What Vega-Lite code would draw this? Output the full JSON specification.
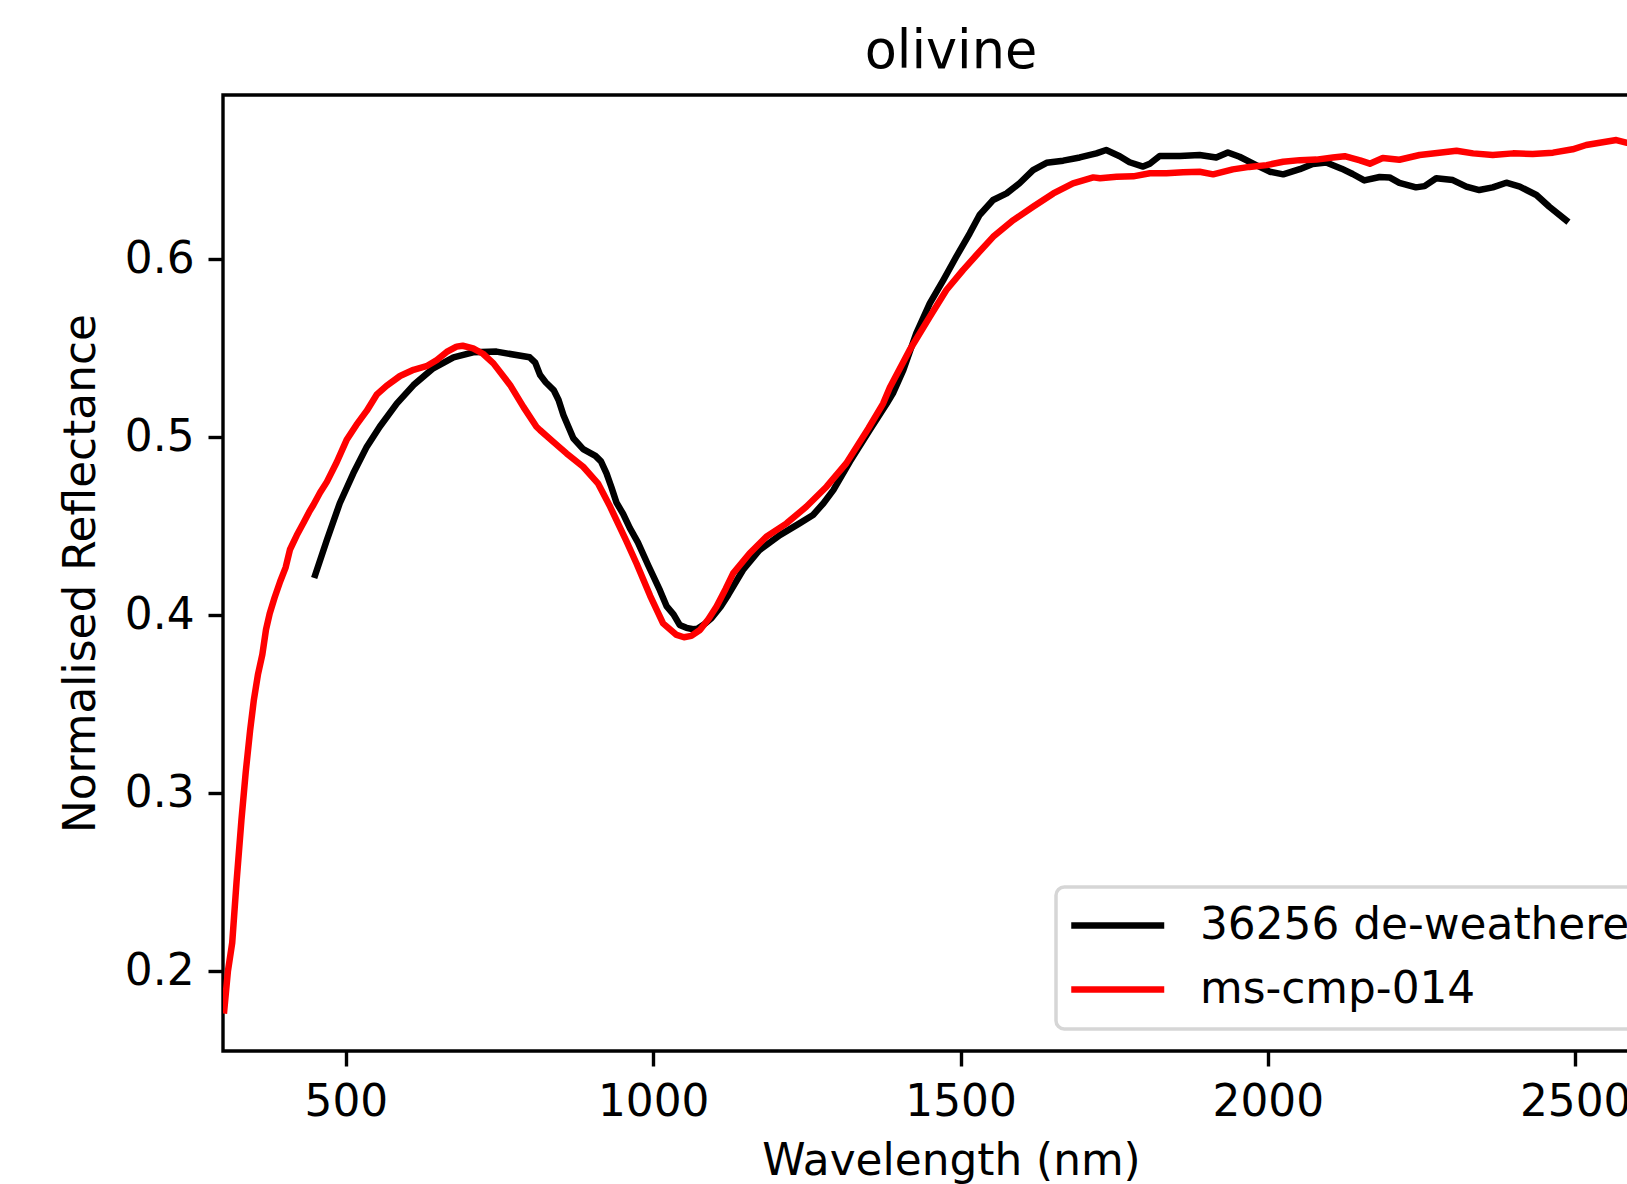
{
  "$schema": "https://vega.github.io/schema/vega-lite/v6.json",
  "width": 1456,
  "height": 956,
  "autosize": {"type": "none"},
  "padding": {"left": 223, "top": 95, "right": 0, "bottom": 133},
  "background": "white",
  "title": {"text": "olivine", "font": "DejaVu Sans", "fontSize": 52.5, "fontWeight": "normal", "color": "black", "baseline": "bottom", "offset": 13.5, "dy": 50, "anchor": "middle"},
  "config": {
    "view": {"stroke": "black", "strokeWidth": 3.4},
    "axis": {"domain": false, "grid": false, "labelFont": "DejaVu Sans", "labelFontSize": 43.8, "labelColor": "black", "tickColor": "black", "tickWidth": 3.4, "tickSize": 15, "labelPadding": 14, "titleFont": "DejaVu Sans", "titleFontSize": 43.8, "titleFontWeight": "normal", "titleColor": "black", "labelFlush": false},
    "legend": {"strokeColor": "#d6d6d6", "strokeWidth": 3.5, "fillColor": "rgba(255,255,255,0.8)", "cornerRadius": 8.3, "padding": 16.7}
  },
  "data": {"values": [
    {"sample": "36256 de-weathered", "wavelength": 450, "reflectance": 0.4227},
    {"sample": "36256 de-weathered", "wavelength": 469, "reflectance": 0.4423},
    {"sample": "36256 de-weathered", "wavelength": 490, "reflectance": 0.463},
    {"sample": "36256 de-weathered", "wavelength": 512, "reflectance": 0.4798},
    {"sample": "36256 de-weathered", "wavelength": 534, "reflectance": 0.4948},
    {"sample": "36256 de-weathered", "wavelength": 555, "reflectance": 0.506},
    {"sample": "36256 de-weathered", "wavelength": 583, "reflectance": 0.5191},
    {"sample": "36256 de-weathered", "wavelength": 610, "reflectance": 0.5294},
    {"sample": "36256 de-weathered", "wavelength": 642, "reflectance": 0.5388},
    {"sample": "36256 de-weathered", "wavelength": 675, "reflectance": 0.545},
    {"sample": "36256 de-weathered", "wavelength": 707, "reflectance": 0.5478},
    {"sample": "36256 de-weathered", "wavelength": 745, "reflectance": 0.5482},
    {"sample": "36256 de-weathered", "wavelength": 799, "reflectance": 0.545},
    {"sample": "36256 de-weathered", "wavelength": 808, "reflectance": 0.542},
    {"sample": "36256 de-weathered", "wavelength": 816, "reflectance": 0.535},
    {"sample": "36256 de-weathered", "wavelength": 825, "reflectance": 0.531},
    {"sample": "36256 de-weathered", "wavelength": 838, "reflectance": 0.5266},
    {"sample": "36256 de-weathered", "wavelength": 846, "reflectance": 0.521},
    {"sample": "36256 de-weathered", "wavelength": 854, "reflectance": 0.5125},
    {"sample": "36256 de-weathered", "wavelength": 862, "reflectance": 0.506},
    {"sample": "36256 de-weathered", "wavelength": 870, "reflectance": 0.4995},
    {"sample": "36256 de-weathered", "wavelength": 886, "reflectance": 0.4934},
    {"sample": "36256 de-weathered", "wavelength": 906, "reflectance": 0.4896},
    {"sample": "36256 de-weathered", "wavelength": 915, "reflectance": 0.4865},
    {"sample": "36256 de-weathered", "wavelength": 924, "reflectance": 0.4798},
    {"sample": "36256 de-weathered", "wavelength": 932, "reflectance": 0.472},
    {"sample": "36256 de-weathered", "wavelength": 940, "reflectance": 0.4635},
    {"sample": "36256 de-weathered", "wavelength": 951, "reflectance": 0.457},
    {"sample": "36256 de-weathered", "wavelength": 962, "reflectance": 0.449},
    {"sample": "36256 de-weathered", "wavelength": 975, "reflectance": 0.441},
    {"sample": "36256 de-weathered", "wavelength": 992, "reflectance": 0.428},
    {"sample": "36256 de-weathered", "wavelength": 1011, "reflectance": 0.414},
    {"sample": "36256 de-weathered", "wavelength": 1022, "reflectance": 0.405},
    {"sample": "36256 de-weathered", "wavelength": 1033, "reflectance": 0.4005},
    {"sample": "36256 de-weathered", "wavelength": 1043, "reflectance": 0.3946},
    {"sample": "36256 de-weathered", "wavelength": 1054, "reflectance": 0.393},
    {"sample": "36256 de-weathered", "wavelength": 1065, "reflectance": 0.3922},
    {"sample": "36256 de-weathered", "wavelength": 1072, "reflectance": 0.3925},
    {"sample": "36256 de-weathered", "wavelength": 1085, "reflectance": 0.3955},
    {"sample": "36256 de-weathered", "wavelength": 1095, "reflectance": 0.3985},
    {"sample": "36256 de-weathered", "wavelength": 1110, "reflectance": 0.405},
    {"sample": "36256 de-weathered", "wavelength": 1122, "reflectance": 0.4115},
    {"sample": "36256 de-weathered", "wavelength": 1146, "reflectance": 0.4255},
    {"sample": "36256 de-weathered", "wavelength": 1173, "reflectance": 0.4367},
    {"sample": "36256 de-weathered", "wavelength": 1206, "reflectance": 0.4451},
    {"sample": "36256 de-weathered", "wavelength": 1238, "reflectance": 0.4517},
    {"sample": "36256 de-weathered", "wavelength": 1260, "reflectance": 0.4564},
    {"sample": "36256 de-weathered", "wavelength": 1277, "reflectance": 0.463},
    {"sample": "36256 de-weathered", "wavelength": 1293, "reflectance": 0.4704},
    {"sample": "36256 de-weathered", "wavelength": 1320, "reflectance": 0.4864},
    {"sample": "36256 de-weathered", "wavelength": 1352, "reflectance": 0.504},
    {"sample": "36256 de-weathered", "wavelength": 1380, "reflectance": 0.519},
    {"sample": "36256 de-weathered", "wavelength": 1390, "reflectance": 0.5247},
    {"sample": "36256 de-weathered", "wavelength": 1407, "reflectance": 0.5379},
    {"sample": "36256 de-weathered", "wavelength": 1428, "reflectance": 0.5585},
    {"sample": "36256 de-weathered", "wavelength": 1450, "reflectance": 0.5753},
    {"sample": "36256 de-weathered", "wavelength": 1472, "reflectance": 0.5884},
    {"sample": "36256 de-weathered", "wavelength": 1493, "reflectance": 0.6015},
    {"sample": "36256 de-weathered", "wavelength": 1515, "reflectance": 0.6147},
    {"sample": "36256 de-weathered", "wavelength": 1531, "reflectance": 0.625},
    {"sample": "36256 de-weathered", "wavelength": 1553, "reflectance": 0.6334},
    {"sample": "36256 de-weathered", "wavelength": 1575, "reflectance": 0.6371},
    {"sample": "36256 de-weathered", "wavelength": 1596, "reflectance": 0.6428},
    {"sample": "36256 de-weathered", "wavelength": 1618, "reflectance": 0.6502},
    {"sample": "36256 de-weathered", "wavelength": 1640, "reflectance": 0.6543},
    {"sample": "36256 de-weathered", "wavelength": 1667, "reflectance": 0.6555},
    {"sample": "36256 de-weathered", "wavelength": 1694, "reflectance": 0.6573},
    {"sample": "36256 de-weathered", "wavelength": 1721, "reflectance": 0.6596},
    {"sample": "36256 de-weathered", "wavelength": 1737, "reflectance": 0.6615},
    {"sample": "36256 de-weathered", "wavelength": 1759, "reflectance": 0.658},
    {"sample": "36256 de-weathered", "wavelength": 1775, "reflectance": 0.6546},
    {"sample": "36256 de-weathered", "wavelength": 1797, "reflectance": 0.6522},
    {"sample": "36256 de-weathered", "wavelength": 1808, "reflectance": 0.6538},
    {"sample": "36256 de-weathered", "wavelength": 1824, "reflectance": 0.6581},
    {"sample": "36256 de-weathered", "wavelength": 1857, "reflectance": 0.6581},
    {"sample": "36256 de-weathered", "wavelength": 1889, "reflectance": 0.6587},
    {"sample": "36256 de-weathered", "wavelength": 1916, "reflectance": 0.6573},
    {"sample": "36256 de-weathered", "wavelength": 1935, "reflectance": 0.6601},
    {"sample": "36256 de-weathered", "wavelength": 1954, "reflectance": 0.6577},
    {"sample": "36256 de-weathered", "wavelength": 1981, "reflectance": 0.653},
    {"sample": "36256 de-weathered", "wavelength": 2003, "reflectance": 0.6493},
    {"sample": "36256 de-weathered", "wavelength": 2025, "reflectance": 0.6478},
    {"sample": "36256 de-weathered", "wavelength": 2052, "reflectance": 0.6507},
    {"sample": "36256 de-weathered", "wavelength": 2073, "reflectance": 0.6536},
    {"sample": "36256 de-weathered", "wavelength": 2095, "reflectance": 0.6545},
    {"sample": "36256 de-weathered", "wavelength": 2120, "reflectance": 0.651},
    {"sample": "36256 de-weathered", "wavelength": 2138, "reflectance": 0.648},
    {"sample": "36256 de-weathered", "wavelength": 2157, "reflectance": 0.6444},
    {"sample": "36256 de-weathered", "wavelength": 2182, "reflectance": 0.6463},
    {"sample": "36256 de-weathered", "wavelength": 2198, "reflectance": 0.6461},
    {"sample": "36256 de-weathered", "wavelength": 2214, "reflectance": 0.643},
    {"sample": "36256 de-weathered", "wavelength": 2241, "reflectance": 0.6405},
    {"sample": "36256 de-weathered", "wavelength": 2255, "reflectance": 0.6412},
    {"sample": "36256 de-weathered", "wavelength": 2274, "reflectance": 0.6456},
    {"sample": "36256 de-weathered", "wavelength": 2301, "reflectance": 0.6446},
    {"sample": "36256 de-weathered", "wavelength": 2323, "reflectance": 0.6409},
    {"sample": "36256 de-weathered", "wavelength": 2344, "reflectance": 0.639},
    {"sample": "36256 de-weathered", "wavelength": 2366, "reflectance": 0.6405},
    {"sample": "36256 de-weathered", "wavelength": 2388, "reflectance": 0.6431},
    {"sample": "36256 de-weathered", "wavelength": 2410, "reflectance": 0.6409},
    {"sample": "36256 de-weathered", "wavelength": 2437, "reflectance": 0.6362},
    {"sample": "36256 de-weathered", "wavelength": 2458, "reflectance": 0.6296},
    {"sample": "36256 de-weathered", "wavelength": 2485, "reflectance": 0.6221},
    {"sample": "ms-cmp-014", "wavelength": 302, "reflectance": 0.178},
    {"sample": "ms-cmp-014", "wavelength": 308, "reflectance": 0.2},
    {"sample": "ms-cmp-014", "wavelength": 315, "reflectance": 0.216},
    {"sample": "ms-cmp-014", "wavelength": 322, "reflectance": 0.25},
    {"sample": "ms-cmp-014", "wavelength": 330, "reflectance": 0.285},
    {"sample": "ms-cmp-014", "wavelength": 337, "reflectance": 0.312},
    {"sample": "ms-cmp-014", "wavelength": 344, "reflectance": 0.335},
    {"sample": "ms-cmp-014", "wavelength": 350, "reflectance": 0.352},
    {"sample": "ms-cmp-014", "wavelength": 357, "reflectance": 0.367},
    {"sample": "ms-cmp-014", "wavelength": 364, "reflectance": 0.378},
    {"sample": "ms-cmp-014", "wavelength": 370, "reflectance": 0.392},
    {"sample": "ms-cmp-014", "wavelength": 376, "reflectance": 0.401},
    {"sample": "ms-cmp-014", "wavelength": 384, "reflectance": 0.41},
    {"sample": "ms-cmp-014", "wavelength": 393, "reflectance": 0.419},
    {"sample": "ms-cmp-014", "wavelength": 402, "reflectance": 0.427},
    {"sample": "ms-cmp-014", "wavelength": 409, "reflectance": 0.437},
    {"sample": "ms-cmp-014", "wavelength": 420, "reflectance": 0.445},
    {"sample": "ms-cmp-014", "wavelength": 431, "reflectance": 0.452},
    {"sample": "ms-cmp-014", "wavelength": 440, "reflectance": 0.458},
    {"sample": "ms-cmp-014", "wavelength": 447, "reflectance": 0.462},
    {"sample": "ms-cmp-014", "wavelength": 458, "reflectance": 0.469},
    {"sample": "ms-cmp-014", "wavelength": 469, "reflectance": 0.475},
    {"sample": "ms-cmp-014", "wavelength": 485, "reflectance": 0.486},
    {"sample": "ms-cmp-014", "wavelength": 501, "reflectance": 0.4985},
    {"sample": "ms-cmp-014", "wavelength": 517, "reflectance": 0.507},
    {"sample": "ms-cmp-014", "wavelength": 534, "reflectance": 0.515},
    {"sample": "ms-cmp-014", "wavelength": 550, "reflectance": 0.524},
    {"sample": "ms-cmp-014", "wavelength": 566, "reflectance": 0.529},
    {"sample": "ms-cmp-014", "wavelength": 588, "reflectance": 0.5345},
    {"sample": "ms-cmp-014", "wavelength": 610, "reflectance": 0.538},
    {"sample": "ms-cmp-014", "wavelength": 631, "reflectance": 0.54},
    {"sample": "ms-cmp-014", "wavelength": 648, "reflectance": 0.5435},
    {"sample": "ms-cmp-014", "wavelength": 664, "reflectance": 0.548},
    {"sample": "ms-cmp-014", "wavelength": 680, "reflectance": 0.551},
    {"sample": "ms-cmp-014", "wavelength": 690, "reflectance": 0.5515},
    {"sample": "ms-cmp-014", "wavelength": 707, "reflectance": 0.55},
    {"sample": "ms-cmp-014", "wavelength": 723, "reflectance": 0.547},
    {"sample": "ms-cmp-014", "wavelength": 740, "reflectance": 0.5416},
    {"sample": "ms-cmp-014", "wavelength": 767, "reflectance": 0.5295},
    {"sample": "ms-cmp-014", "wavelength": 789, "reflectance": 0.517},
    {"sample": "ms-cmp-014", "wavelength": 810, "reflectance": 0.506},
    {"sample": "ms-cmp-014", "wavelength": 816, "reflectance": 0.504},
    {"sample": "ms-cmp-014", "wavelength": 837, "reflectance": 0.4976},
    {"sample": "ms-cmp-014", "wavelength": 859, "reflectance": 0.491},
    {"sample": "ms-cmp-014", "wavelength": 886, "reflectance": 0.4835},
    {"sample": "ms-cmp-014", "wavelength": 910, "reflectance": 0.4742},
    {"sample": "ms-cmp-014", "wavelength": 930, "reflectance": 0.461},
    {"sample": "ms-cmp-014", "wavelength": 940, "reflectance": 0.4536},
    {"sample": "ms-cmp-014", "wavelength": 956, "reflectance": 0.442},
    {"sample": "ms-cmp-014", "wavelength": 973, "reflectance": 0.429},
    {"sample": "ms-cmp-014", "wavelength": 995, "reflectance": 0.411},
    {"sample": "ms-cmp-014", "wavelength": 1016, "reflectance": 0.3955},
    {"sample": "ms-cmp-014", "wavelength": 1038, "reflectance": 0.389},
    {"sample": "ms-cmp-014", "wavelength": 1050, "reflectance": 0.3877},
    {"sample": "ms-cmp-014", "wavelength": 1062, "reflectance": 0.3885},
    {"sample": "ms-cmp-014", "wavelength": 1076, "reflectance": 0.3918},
    {"sample": "ms-cmp-014", "wavelength": 1090, "reflectance": 0.398},
    {"sample": "ms-cmp-014", "wavelength": 1103, "reflectance": 0.405},
    {"sample": "ms-cmp-014", "wavelength": 1118, "reflectance": 0.415},
    {"sample": "ms-cmp-014", "wavelength": 1130, "reflectance": 0.4236},
    {"sample": "ms-cmp-014", "wavelength": 1157, "reflectance": 0.4349},
    {"sample": "ms-cmp-014", "wavelength": 1184, "reflectance": 0.4442},
    {"sample": "ms-cmp-014", "wavelength": 1217, "reflectance": 0.4517},
    {"sample": "ms-cmp-014", "wavelength": 1249, "reflectance": 0.461},
    {"sample": "ms-cmp-014", "wavelength": 1282, "reflectance": 0.4723},
    {"sample": "ms-cmp-014", "wavelength": 1314, "reflectance": 0.4854},
    {"sample": "ms-cmp-014", "wavelength": 1350, "reflectance": 0.505},
    {"sample": "ms-cmp-014", "wavelength": 1374, "reflectance": 0.519},
    {"sample": "ms-cmp-014", "wavelength": 1385, "reflectance": 0.528},
    {"sample": "ms-cmp-014", "wavelength": 1417, "reflectance": 0.549},
    {"sample": "ms-cmp-014", "wavelength": 1450, "reflectance": 0.5678},
    {"sample": "ms-cmp-014", "wavelength": 1477, "reflectance": 0.5828},
    {"sample": "ms-cmp-014", "wavelength": 1504, "reflectance": 0.594},
    {"sample": "ms-cmp-014", "wavelength": 1526, "reflectance": 0.6025},
    {"sample": "ms-cmp-014", "wavelength": 1553, "reflectance": 0.6127},
    {"sample": "ms-cmp-014", "wavelength": 1586, "reflectance": 0.6221},
    {"sample": "ms-cmp-014", "wavelength": 1618, "reflectance": 0.6296},
    {"sample": "ms-cmp-014", "wavelength": 1651, "reflectance": 0.6371},
    {"sample": "ms-cmp-014", "wavelength": 1683, "reflectance": 0.6428},
    {"sample": "ms-cmp-014", "wavelength": 1716, "reflectance": 0.6461},
    {"sample": "ms-cmp-014", "wavelength": 1727, "reflectance": 0.6456},
    {"sample": "ms-cmp-014", "wavelength": 1754, "reflectance": 0.6465},
    {"sample": "ms-cmp-014", "wavelength": 1781, "reflectance": 0.6467},
    {"sample": "ms-cmp-014", "wavelength": 1808, "reflectance": 0.6484},
    {"sample": "ms-cmp-014", "wavelength": 1835, "reflectance": 0.6484},
    {"sample": "ms-cmp-014", "wavelength": 1862, "reflectance": 0.649},
    {"sample": "ms-cmp-014", "wavelength": 1889, "reflectance": 0.6493},
    {"sample": "ms-cmp-014", "wavelength": 1911, "reflectance": 0.6478},
    {"sample": "ms-cmp-014", "wavelength": 1943, "reflectance": 0.6506},
    {"sample": "ms-cmp-014", "wavelength": 1970, "reflectance": 0.652},
    {"sample": "ms-cmp-014", "wavelength": 1998, "reflectance": 0.653},
    {"sample": "ms-cmp-014", "wavelength": 2025, "reflectance": 0.6549},
    {"sample": "ms-cmp-014", "wavelength": 2052, "reflectance": 0.6558},
    {"sample": "ms-cmp-014", "wavelength": 2079, "reflectance": 0.6561},
    {"sample": "ms-cmp-014", "wavelength": 2106, "reflectance": 0.6573},
    {"sample": "ms-cmp-014", "wavelength": 2125, "reflectance": 0.658},
    {"sample": "ms-cmp-014", "wavelength": 2150, "reflectance": 0.6557},
    {"sample": "ms-cmp-014", "wavelength": 2166, "reflectance": 0.6538},
    {"sample": "ms-cmp-014", "wavelength": 2187, "reflectance": 0.657},
    {"sample": "ms-cmp-014", "wavelength": 2214, "reflectance": 0.656},
    {"sample": "ms-cmp-014", "wavelength": 2247, "reflectance": 0.6587},
    {"sample": "ms-cmp-014", "wavelength": 2279, "reflectance": 0.66},
    {"sample": "ms-cmp-014", "wavelength": 2307, "reflectance": 0.6611},
    {"sample": "ms-cmp-014", "wavelength": 2334, "reflectance": 0.6596},
    {"sample": "ms-cmp-014", "wavelength": 2366, "reflectance": 0.6587},
    {"sample": "ms-cmp-014", "wavelength": 2399, "reflectance": 0.6596},
    {"sample": "ms-cmp-014", "wavelength": 2431, "reflectance": 0.6592},
    {"sample": "ms-cmp-014", "wavelength": 2464, "reflectance": 0.66},
    {"sample": "ms-cmp-014", "wavelength": 2496, "reflectance": 0.6619},
    {"sample": "ms-cmp-014", "wavelength": 2518, "reflectance": 0.6643},
    {"sample": "ms-cmp-014", "wavelength": 2540, "reflectance": 0.6656},
    {"sample": "ms-cmp-014", "wavelength": 2567, "reflectance": 0.6671},
    {"sample": "ms-cmp-014", "wavelength": 2583, "reflectance": 0.6656},
    {"sample": "ms-cmp-014", "wavelength": 2600, "reflectance": 0.666}
  ]},
  "mark": {"type": "line", "strokeWidth": 6.5, "strokeCap": "square", "strokeJoin": "round", "clip": true},
  "encoding": {
    "x": {"field": "wavelength", "type": "quantitative", "scale": {"domain": [300, 2669], "nice": false, "zero": false}, "axis": {"values": [500, 1000, 1500, 2000, 2500], "format": "d", "title": "Wavelength (nm)", "titlePadding": 15.5}},
    "y": {"field": "reflectance", "type": "quantitative", "scale": {"domain": [0.1552, 0.6924], "nice": false, "zero": false}, "axis": {"values": [0.2, 0.3, 0.4, 0.5, 0.6], "format": ".1f", "title": "Normalised Reflectance", "titlePadding": 21}},
    "color": {"field": "sample", "type": "nominal", "scale": {"domain": ["36256 de-weathered", "ms-cmp-014"], "range": ["#000000", "#ff0000"]},
      "legend": {"orient": "none", "legendX": 833, "legendY": 792, "title": null, "symbolType": "M-2.24,0H6.68", "symbolSize": 434.7, "symbolStrokeWidth": 6.5, "labelFont": "DejaVu Sans", "labelFontSize": 43.8, "labelColor": "black", "labelOffset": 83.5, "labelLimit": 2000, "rowPadding": 19}}
  }
}
